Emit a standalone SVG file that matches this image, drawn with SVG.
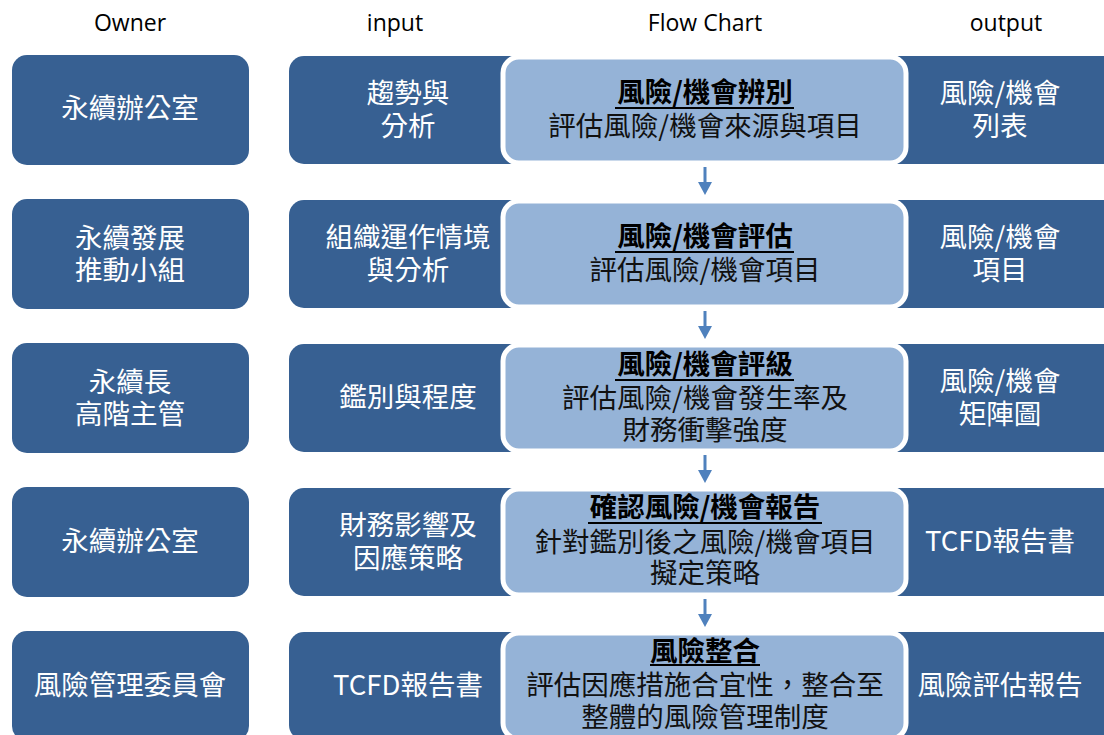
<svg xmlns="http://www.w3.org/2000/svg" width="1104" height="735" viewBox="0 0 1104 735">
<style>
.hdr{font-family:"Open Sans",Lato,"Noto Sans CJK TC",sans-serif;font-size:23px;fill:#000;text-anchor:middle}
.dk{fill:#376092}
.fl{fill:#95B3D7;stroke:#fff;stroke-width:5}
.wt{font-family:"Noto Sans CJK TC","Noto Sans",sans-serif;font-size:27.5px;fill:#fff;text-anchor:middle}
.tt{font-family:"Noto Sans CJK TC",sans-serif;font-size:27.5px;font-weight:bold;fill:#000;text-anchor:middle}
.st{font-family:"Noto Sans CJK TC",sans-serif;font-size:27.5px;fill:#111;text-anchor:middle}
.ul{stroke:#000;stroke-width:2}
.ar{stroke:#4F81BD;stroke-width:3}
.ah{fill:#4F81BD}
</style>
<rect width="1104" height="735" fill="#fff"/>
<g id="headers">
<text class="hdr" x="130" y="31">Owner</text>
<text class="hdr" x="395" y="31">input</text>
<text class="hdr" x="705" y="31">Flow Chart</text>
<text class="hdr" x="1006" y="31">output</text>
</g>
<g id="owner1"><rect class="dk" x="12" y="55" width="237" height="110" rx="15"/><text class="wt" x="130" y="118">永續辦公室</text></g>
<g id="owner2"><rect class="dk" x="12" y="199" width="237" height="110" rx="15"/><text class="wt" x="130" y="248">永續發展</text><text class="wt" x="130" y="280">推動小組</text></g>
<g id="owner3"><rect class="dk" x="12" y="343" width="237" height="110" rx="15"/><text class="wt" x="130" y="392">永續長</text><text class="wt" x="130" y="424">高階主管</text></g>
<g id="owner4"><rect class="dk" x="12" y="487" width="237" height="110" rx="15"/><text class="wt" x="130" y="551">永續辦公室</text></g>
<g id="owner5"><rect class="dk" x="12" y="631" width="237" height="110" rx="15"/><text class="wt" x="130" y="695">風險管理委員會</text></g>

<g id="input1"><rect class="dk" x="289" y="56" width="240" height="108" rx="15"/><text class="wt" x="408" y="103">趨勢與</text><text class="wt" x="408" y="136">分析</text></g>
<g id="input2"><rect class="dk" x="289" y="200" width="240" height="108" rx="15"/><text class="wt" x="408" y="247">組織運作情境</text><text class="wt" x="408" y="280">與分析</text></g>
<g id="input3"><rect class="dk" x="289" y="344" width="240" height="108" rx="15"/><text class="wt" x="408" y="407">鑑別與程度</text></g>
<g id="input4"><rect class="dk" x="289" y="488" width="240" height="108" rx="15"/><text class="wt" x="408" y="535">財務影響及</text><text class="wt" x="408" y="568">因應策略</text></g>
<g id="input5"><rect class="dk" x="289" y="632" width="240" height="108" rx="15"/><text class="wt" x="408" y="695">TCFD報告書</text></g>

<g id="output1"><rect class="dk" x="880" y="56" width="240" height="108" rx="15"/><text class="wt" x="1000" y="103">風險/機會</text><text class="wt" x="1000" y="136">列表</text></g>
<g id="output2"><rect class="dk" x="880" y="200" width="240" height="108" rx="15"/><text class="wt" x="1000" y="247">風險/機會</text><text class="wt" x="1000" y="280">項目</text></g>
<g id="output3"><rect class="dk" x="880" y="344" width="240" height="108" rx="15"/><text class="wt" x="1000" y="391">風險/機會</text><text class="wt" x="1000" y="424">矩陣圖</text></g>
<g id="output4"><rect class="dk" x="880" y="488" width="240" height="108" rx="15"/><text class="wt" x="1000" y="551">TCFD報告書</text></g>
<g id="output5"><rect class="dk" x="880" y="632" width="240" height="108" rx="15"/><text class="wt" x="1000" y="695">風險評估報告</text></g>

<g id="flow1"><rect class="fl" x="503" y="57" width="403" height="106" rx="16"/><text class="tt" x="705" y="102">風險/機會辨別</text><line class="ul" x1="615" y1="108" x2="794" y2="108"/><text class="st" x="705" y="136">評估風險/機會來源與項目</text></g>
<g id="flow2"><rect class="fl" x="503" y="201" width="403" height="106" rx="16"/><text class="tt" x="705" y="246">風險/機會評估</text><line class="ul" x1="615" y1="252" x2="794" y2="252"/><text class="st" x="705" y="280">評估風險/機會項目</text></g>
<g id="flow3"><rect class="fl" x="503" y="345" width="403" height="106" rx="16"/><text class="tt" x="705" y="374">風險/機會評級</text><line class="ul" x1="615" y1="380" x2="794" y2="380"/><text class="st" x="705" y="408">評估風險/機會發生率及</text><text class="st" x="705" y="440">財務衝擊強度</text></g>
<g id="flow4"><rect class="fl" x="503" y="489" width="403" height="106" rx="16"/><text class="tt" x="705" y="517">確認風險/機會報告</text><line class="ul" x1="588" y1="523" x2="822" y2="523"/><text class="st" x="705" y="552">針對鑑別後之風險/機會項目</text><text class="st" x="705" y="583">擬定策略</text></g>
<g id="flow5"><rect class="fl" x="503" y="633" width="403" height="106" rx="16"/><text class="tt" x="705" y="661">風險整合</text><line class="ul" x1="650" y1="665" x2="760" y2="665"/><text class="st" x="705" y="695">評估因應措施合宜性，整合至</text><text class="st" x="705" y="727">整體的風險管理制度</text></g>

<g id="connectors">
<line class="ar" x1="705" y1="167" x2="705" y2="184"/><polygon class="ah" points="698,182 712,182 705,195"/>
<line class="ar" x1="705" y1="311" x2="705" y2="328"/><polygon class="ah" points="698,326 712,326 705,339"/>
<line class="ar" x1="705" y1="455" x2="705" y2="472"/><polygon class="ah" points="698,470 712,470 705,483"/>
<line class="ar" x1="705" y1="599" x2="705" y2="616"/><polygon class="ah" points="698,614 712,614 705,627"/>
</g>
</svg>
